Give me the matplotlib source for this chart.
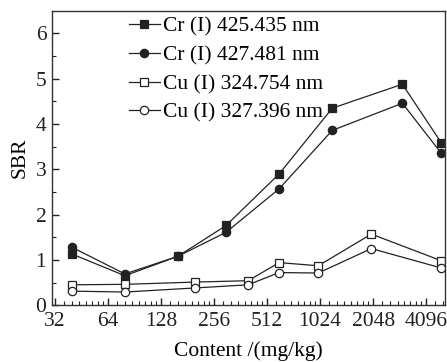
import matplotlib
matplotlib.use('Agg')
import matplotlib.pyplot as plt
import numpy as np
from matplotlib.ticker import FixedLocator, MultipleLocator, NullFormatter

plt.rcParams['font.family'] = ['Liberation Serif', 'DejaVu Serif']

# data
cr_x = [40, 80, 160, 300, 600, 1200, 3000, 5000]
cu_x = [40, 80, 200, 400, 600, 1000, 2000, 5000]
cr425 = [1.13, 0.65, 1.08, 1.76, 2.90, 4.35, 4.88, 3.58]
cr427 = [1.28, 0.69, 1.08, 1.61, 2.57, 3.86, 4.46, 3.35]
cu324 = [0.45, 0.46, 0.51, 0.54, 0.94, 0.87, 1.57, 0.98]
cu327 = [0.31, 0.29, 0.38, 0.45, 0.72, 0.71, 1.25, 0.82]
xticks = [32, 64, 128, 256, 512, 1024, 2048, 4096]

fig = plt.figure(figsize=(4.47, 3.62), dpi=100)
ax = fig.add_axes([0.116, 0.157, 0.880, 0.813])

c = '#222222'
kw = dict(color=c, lw=0.9, ms=6, markeredgewidth=0.9)
ax.plot(cr_x, cr425, marker='s', mfc=c, label='Cr (I) 425.435 nm', **kw)
ax.plot(cr_x, cr427, marker='o', mfc=c, label='Cr (I) 427.481 nm', **kw)
ax.plot(cu_x, cu324, marker='s', mfc='white', label='Cu (I) 324.754 nm', **kw)
ax.plot(cu_x, cu327, marker='o', mfc='white', label='Cu (I) 327.396 nm', **kw)

ax.set_xscale('log', base=2)
ax.set_xlim(30.8, 5250)
ax.set_ylim(0, 6.5)
ax.xaxis.set_major_locator(FixedLocator(xticks))
ax.set_xticklabels([str(t) for t in xticks])
minors = [t * (1 + k / 8) for t in [16] + xticks for k in range(1, 8)]
ax.xaxis.set_minor_locator(FixedLocator(minors))
ax.xaxis.set_minor_formatter(NullFormatter())
ax.yaxis.set_major_locator(MultipleLocator(1))
ax.yaxis.set_minor_locator(MultipleLocator(0.5))

fs = 15.5
ax.tick_params(which='both', direction='in', labelsize=fs, colors=c)
ax.tick_params(which='major', length=5, width=1)
ax.tick_params(which='minor', length=3, width=0.8)
ax.tick_params(axis='x', pad=5)
ax.tick_params(axis='y', pad=4)
for s in ax.spines.values():
    s.set_color('#333333')
    s.set_linewidth(1)

ax.set_xlabel('Content /(mg/kg)', fontsize=fs, labelpad=7)
ax.set_ylabel('SBR', fontsize=fs, labelpad=4)

ax.legend(loc='upper left', bbox_to_anchor=(0.165, 1.02), frameon=False,
          fontsize=fs, handlelength=1.45, handletextpad=0.15,
          labelspacing=0.4, borderaxespad=0.15)

plt.savefig('out.png', dpi=100)
